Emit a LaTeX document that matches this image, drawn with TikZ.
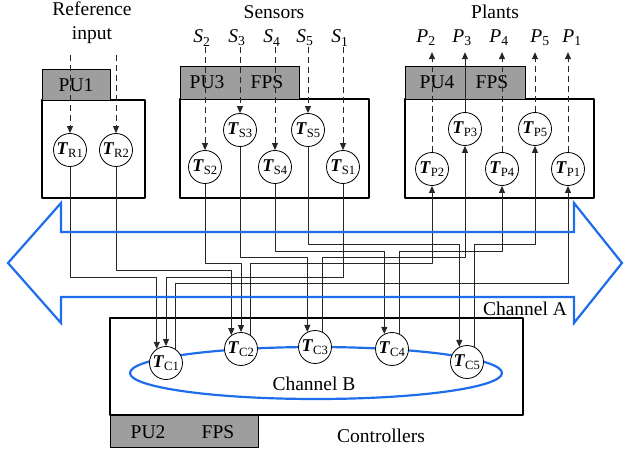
\documentclass[tikz,border=0pt]{standalone}
\usepackage{fontspec}
\setmainfont{Liberation Serif}
\usetikzlibrary{arrows.meta}
\definecolor{chblue}{RGB}{30,110,235}
\tikzset{
  tnode/.style={circle, draw, fill=white, inner sep=0pt, minimum size=33pt,
    line width=0.8pt, font=\fontsize{18}{20}\selectfont},
  wire/.style={line width=0.9pt, draw=black!85},
  dwire/.style={wire, dash pattern=on 6pt off 4pt},
  tip/.style={-{Triangle[length=7pt,width=6pt]}},
  pubox/.style={draw, line width=0.9pt, fill=black!38},
  frame/.style={draw, line width=1.1pt},
  chan/.style={draw=chblue, line width=2.2pt},
  txt/.style={font=\fontsize{19.5}{24}\selectfont, inner sep=1pt},
}

\begin{document}
\begin{tikzpicture}[x=1pt, y=-1pt, line join=round]
      \useasboundingbox (0,0) rectangle (625,452);

      % frames and processing units
      \draw[frame] (42,100) rectangle (145,198);
      \draw[frame] (180,99) rectangle (369,198);
      \draw[frame] (405,99) rectangle (594,198);
      \draw[frame] (110,318) rectangle (523,415);
      \draw[pubox] (42,69) rectangle (110,100);
      \draw[pubox] (180,66) rectangle (299,99);
      \draw[pubox] (405,66) rectangle (525,99);
      \draw[pubox] (110,415) rectangle (258,447);
      \node[txt] (pu1) at (76,85) {PU1};
      \node[txt] (pu3) at (207,82) {PU3};
      \node[txt] (fps3) at (267,82) {FPS};
      \node[txt] (pu4) at (437,82) {PU4};
      \node[txt] (fps4) at (492,82) {FPS};
      \node[txt] (pu2) at (148,432) {PU2};
      \node[txt] (fps2) at (218,432) {FPS};

      % titles
      \node[txt, align=center] (refin) at (92,23) {Reference\\input};
      \node[txt] (sens) at (274,12) {Sensors};
      \node[txt] (plants) at (495,12) {Plants};
      \node[txt] (ctrl) at (381,436) {Controllers};

      % channel B
      \draw[chan] (316,373) ellipse [x radius=186pt, y radius=26pt];
      \node[txt] (chB) at (314,384) {Channel B};

      % task nodes
      \foreach \n/\x/\y in {R1/70/150, R2/116/150,
                            S2/205/167, S3/240/130, S4/275/167, S5/308/130, S1/343/167,
                            P2/432/169, P3/465/129, P4/502/169, P5/535/129, P1/568/169,
                            C1/166/363, C2/241/349, C3/315/347, C4/392/349, C5/467/362}
        \node[tnode] (T\n) at (\x,\y) {\textbf{\textit{T}}\textsubscript{\n}};

      % inputs
      \coordinate (in1) at (70,55);
      \coordinate (in2) at (116,55);
      \draw[dwire,tip] (in1) -- (TR1.north);
      \draw[dwire,tip] (in2) -- (TR2.north);
      \foreach \n/\x in {2/202,3/237,4/272,5/305,1/340}{
        \node[txt] (lS\n) at (\x,38) {\textit{S}\textsubscript{\n}};
        \draw[dwire,tip] (lS\n.south -| TS\n.north) -- (TS\n.north);
      }
      \foreach \n/\x/\s in {2/426/dwire,3/462/wire,4/499/dwire,5/540/dwire,1/572/dwire}{
        \node[txt] (lP\n) at (\x,38) {\textit{P}\textsubscript{\n}};
        \draw[\s,tip,shorten >=5pt] (TP\n.north) -- (lP\n.south -| TP\n.north);
      }

      % sensor and reference wires to controllers
      \foreach \a/\b/\lev in {TR1/TC1.123/277, TR2/TC2.125/270, TS2/TC2.90/263,
                              TS3/TC3.117/257, TS4/TC4.117/251, TS5/TC5.117/244, TS1/TC1.90/277}
        \draw[wire,tip] (\a.south) -- (\a.south |- 0,\lev) -| (\b);

      % controller wires to plants
      \foreach \a/\b/\lev in {TC1.57/TP1/283, TC2.55/TP2/263, TC3.63/TP3/257,
                              TC4.63/TP4/251, TC5.63/TP5/244}
        \draw[wire,tip] (\a) -- (\a |- 0,\lev) -| (\b.south);

      % channel A
      \draw[chan, line join=miter] (8,263) -- (61,203) -- (61,232) -- (574,232) -- (574,203)
        -- (622,263) -- (574,323) -- (574,297) -- (61,297) -- (61,323) -- cycle;
      \node[txt] (chA) at (525,309) {Channel A};
    \end{tikzpicture}
\end{document}
